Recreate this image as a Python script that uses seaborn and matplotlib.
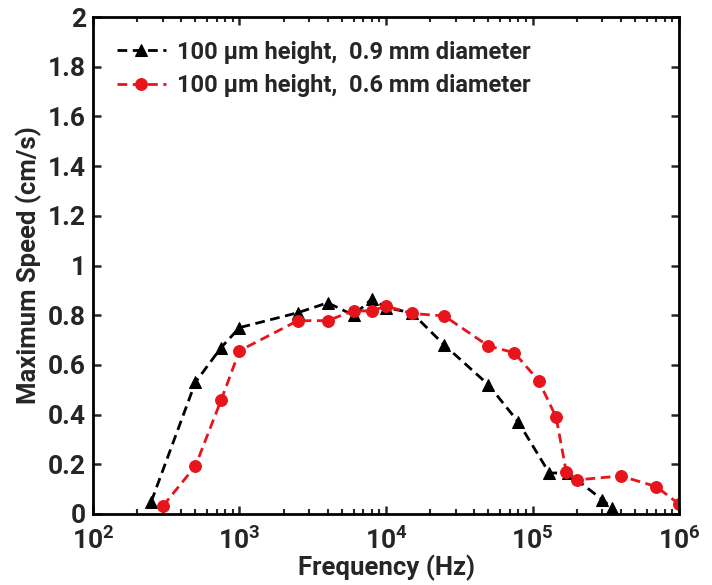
import matplotlib
matplotlib.use("Agg")
import matplotlib.pyplot as plt
import matplotlib.ticker as mticker
import numpy as np
import pandas as pd
import seaborn as sns

# Data
freq_09 = [250, 500, 750, 1000, 2500, 4000, 6000, 8000, 10000, 15000, 25000,
           50000, 80000, 130000, 175000, 300000, 350000]
speed_09 = [0.05, 0.53, 0.67, 0.75, 0.81, 0.85, 0.80, 0.865, 0.83, 0.81, 0.68,
            0.52, 0.37, 0.165, 0.165, 0.057, 0.025]
freq_06 = [300, 500, 750, 1000, 2500, 4000, 6000, 8000, 10000, 15000, 25000,
           50000, 75000, 110000, 145000, 170000, 200000, 400000, 700000, 1000000]
speed_06 = [0.032, 0.193, 0.459, 0.657, 0.778, 0.778, 0.818, 0.817, 0.837, 0.807, 0.797,
            0.676, 0.649, 0.537, 0.389, 0.168, 0.137, 0.153, 0.11, 0.04]
label_09 = "100 \u00b5m height,  0.9 mm diameter"
label_06 = "100 \u00b5m height,  0.6 mm diameter"
x_ticks = [1e2, 1e3, 1e4, 1e5, 1e6]
y_ticks = [0, 0.2, 0.4, 0.6, 0.8, 1, 1.2, 1.4, 1.6, 1.8, 2]

sns.set_style("ticks")
plt.rcParams['font.family'] = ['Roboto', 'DejaVu Sans']
plt.rcParams['font.weight'] = 'bold'
plt.rcParams['mathtext.fontset'] = 'custom'
plt.rcParams['mathtext.rm'] = 'Roboto:bold'
plt.rcParams['mathtext.it'] = 'Roboto:bold'
plt.rcParams['mathtext.bf'] = 'Roboto:bold'

fig = plt.figure(figsize=(7.12, 5.85), dpi=100)
ax = fig.add_axes([0.1306, 0.1214, 0.8231, 0.8495])

df09 = pd.DataFrame({"f": freq_09, "v": speed_09})
df06 = pd.DataFrame({"f": freq_06, "v": speed_06})

sns.lineplot(data=df09, x="f", y="v", ax=ax, color="black", linestyle="--",
             marker="^", markersize=8.5, linewidth=2, dashes=False,
             markeredgecolor="black", label=label_09, estimator=None)
sns.lineplot(data=df06, x="f", y="v", ax=ax, color="#e8141b", linestyle="--",
             marker="o", markersize=8.5, linewidth=2, dashes=False,
             markeredgecolor="#e8141b", label=label_06, estimator=None)
for ln in ax.get_lines():
    ln.set_linestyle((0, (3.5, 2)))

ax.set_xscale("log")
ax.set_xlim(1e2, 1e6)
ax.set_ylim(0, 2)
ax.set_xticks(x_ticks)
ax.xaxis.set_major_formatter(mticker.FuncFormatter(
    lambda v, p: r"$\mathbf{10^{%d}}$" % int(round(np.log10(v)))))
ax.xaxis.set_minor_locator(mticker.LogLocator(base=10, subs=np.arange(2, 10), numticks=20))
ax.xaxis.set_minor_formatter(mticker.NullFormatter())
ax.set_yticks(y_ticks)
ax.yaxis.set_major_formatter(mticker.FuncFormatter(lambda v, p: ("%g" % v)))

ax.tick_params(axis="both", which="major", direction="in", length=6, width=1.8,
               top=True, right=True, labelsize=19)
ax.tick_params(axis="y", which="major", pad=5)
ax.tick_params(axis="x", which="major", pad=9)
ax.tick_params(axis="x", which="minor", direction="in", length=3.5, width=1.5,
               top=True, bottom=True)
for lab in ax.get_xticklabels() + ax.get_yticklabels():
    lab.set_fontweight("bold")
for s in ax.spines.values():
    s.set_linewidth(2)
    s.set_color("black")

ax.set_xlabel("Frequency (Hz)", fontsize=18.5, fontweight="bold", labelpad=1)
ax.set_ylabel("Maximum Speed (cm/s)", fontsize=18.5, fontweight="bold", labelpad=4)

leg = ax.legend(loc="upper left", frameon=False,
                prop={"weight": "bold", "size": 17}, handlelength=2.1,
                borderaxespad=0.6, labelspacing=0.45, handletextpad=0.45)

fig.savefig("out.png", dpi=100)
